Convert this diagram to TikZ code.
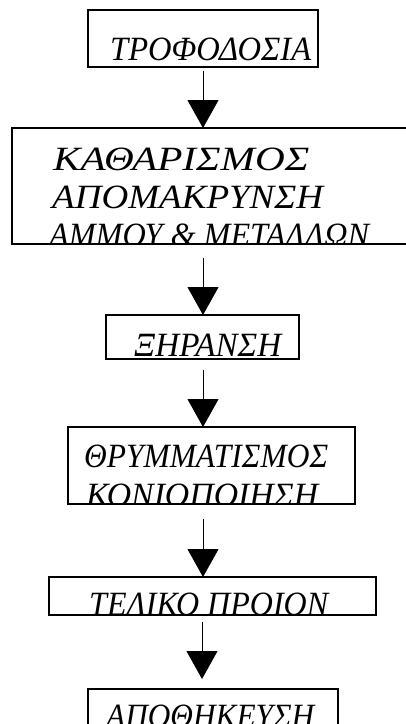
\documentclass[tikz,border=0pt]{standalone}
\usepackage{fontspec}
\setmainfont[FakeStretch=0.93]{Liberation Serif}
\usetikzlibrary{arrows.meta}
\newcommand{\fitw}[2]{\resizebox{#1pt}{\height}{#2}}
\begin{document}
\begin{tikzpicture}[x=1pt,y=-1pt,
  boxst/.style={draw, line width=1.3pt, rectangle, inner sep=0pt, outer sep=0pt, anchor=north west},
  lbl/.style={inner sep=0pt, anchor=base west, font=\fontsize{34}{39}\selectfont\itshape},
  flow/.style={line width=1pt, -{Triangle[width=31pt,length=28pt]}}]
\useasboundingbox[fill=white] (0,0) rectangle (405,724);

% boxes
\node[boxst, minimum width=230pt, minimum height=57pt] (b1) at (88,10) {};
\node[boxst, minimum width=410pt, minimum height=116pt] (b2) at (12,128) {};
\node[boxst, minimum width=193pt, minimum height=44pt] (b3) at (106,315) {};
\node[boxst, minimum width=287pt, minimum height=77pt] (b4) at (68,427) {};
\node[boxst, minimum width=327pt, minimum height=38pt] (b5) at (49,577) {};
\node[boxst, minimum width=250pt, minimum height=45pt] (b6) at (88,689) {};

% texts, clipped by their boxes
\begin{scope}
\clip (b1.north west) rectangle (b1.south east);
\node[lbl] (t1) at (110,60) {\fitw{201}{ΤΡΟΦΟΔΟΣΙΑ}};
\end{scope}
\begin{scope}
\clip (b2.north west) rectangle (b2.south east);
\node[lbl] (t2a) at (53,170) {\fitw{256}{ΚΑΘΑΡΙΣΜΟΣ}};
\node[lbl] (t2b) at (52,208) {\fitw{271}{ΑΠΟΜΑΚΡΥΝΣΗ}};
\node[lbl] (t2c) at (49,246) {\fitw{320}{ΑΜΜΟΥ \& ΜΕΤΑΛΛΩΝ}};
\end{scope}
\begin{scope}
\clip (b3.north west) rectangle (b3.south east);
\node[lbl] (t3) at (134,356) {\fitw{147}{ΞΗΡΑΝΣΗ}};
\end{scope}
\begin{scope}
\clip (b4.north west) rectangle (b4.south east);
\node[lbl] (t4a) at (84,467) {\fitw{244}{ΘΡΥΜΜΑΤΙΣΜΟΣ}};
\node[lbl] (t4b) at (86,506) {\fitw{232}{ΚΟΝΙΟΠΟΙΗΣΗ}};
\end{scope}
\begin{scope}
\clip (b5.north west) rectangle (b5.south east);
\node[lbl] (t5) at (89,615) {\fitw{239}{ΤΕΛΙΚΟ ΠΡΟΙΟΝ}};
\end{scope}
\begin{scope}
\clip (b6.north west) rectangle (b6.south east);
\node[lbl] (t6) at (106,727) {\fitw{208}{ΑΠΟΘΗΚΕΥΣΗ}};
\end{scope}

% arrows
\coordinate (a1) at (203,71);
\coordinate (a2) at (203,258);
\coordinate (a3) at (203,370);
\coordinate (a4) at (203,519);
\coordinate (a5) at (202,622);
\coordinate (a5e) at (202,679);
\draw[flow] (a1) -- (a1 |- b2.north);
\draw[flow] (a2) -- (a2 |- b3.north);
\draw[flow] (a3) -- (a3 |- b4.north);
\draw[flow] (a4) -- (a4 |- b5.north);
\draw[flow] (a5) -- (a5e);
\end{tikzpicture}
\end{document}
